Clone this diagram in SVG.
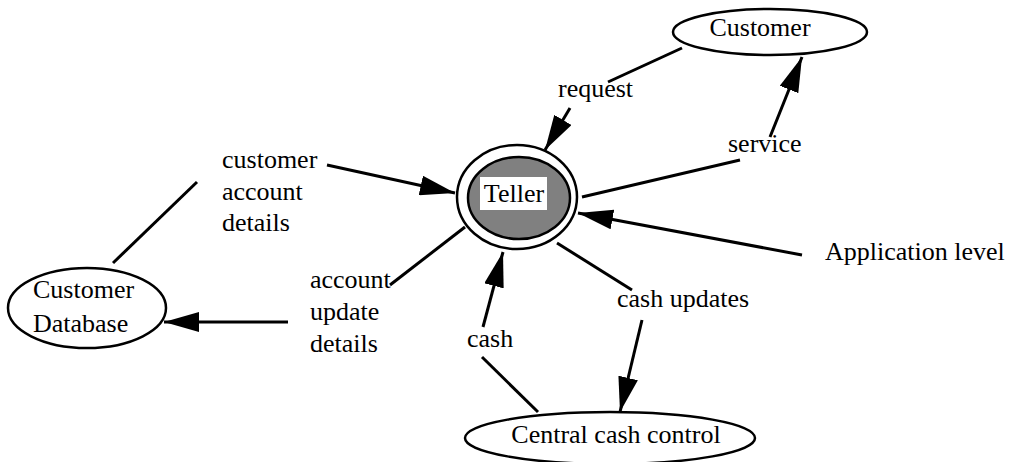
<svg xmlns="http://www.w3.org/2000/svg" width="1012" height="462" viewBox="0 0 1012 462">
  <style>
    .node { fill: #ffffff; stroke: #000000; stroke-width: 2.5; }
    .core { fill: #808080; stroke: #000000; stroke-width: 2.5; }
    .lbl { font-family: "Liberation Serif", "Times New Roman", serif; font-size: 26px; fill: #000000; }
    .mid { text-anchor: middle; }
    .flow { stroke: #000000; stroke-width: 3; fill: none; }
    .arrow { stroke: #000000; stroke-width: 3; fill: none; marker-end: url(#head); }
  </style>
  <defs>
    <marker id="head" markerUnits="userSpaceOnUse" markerWidth="36" markerHeight="20" refX="35" refY="10" orient="auto">
      <path d="M0,0 L35,10 L0,20 z" fill="#000000"/>
    </marker>
  </defs>

  <!-- data flows -->
  <g id="connectors">
    <!-- request: Customer -> Teller -->
    <line class="flow" x1="682" y1="48" x2="608" y2="82"/>
    <line class="arrow" x1="570" y1="108" x2="545" y2="150"/>
    <!-- service: Teller -> Customer -->
    <line class="flow" x1="582" y1="197" x2="740" y2="160"/>
    <line class="arrow" x1="770" y1="137" x2="802" y2="57"/>
    <!-- customer account details: Database -> Teller -->
    <line class="flow" x1="113" y1="263" x2="197" y2="182"/>
    <line class="arrow" x1="327" y1="165" x2="455" y2="193"/>
    <!-- account update details: Teller -> Database -->
    <line class="flow" x1="465" y1="227" x2="390" y2="285"/>
    <line class="arrow" x1="288" y1="322" x2="164" y2="322"/>
    <!-- Application level -->
    <line class="arrow" x1="802" y1="255" x2="578" y2="213"/>
    <!-- cash updates: Teller -> Central cash control -->
    <line class="flow" x1="557" y1="243" x2="632" y2="290"/>
    <line class="arrow" x1="642" y1="320" x2="620" y2="412"/>
    <!-- cash: Central cash control -> Teller -->
    <line class="flow" x1="538" y1="412" x2="482" y2="357"/>
    <line class="arrow" x1="483" y1="327" x2="503" y2="252"/>
  </g>

  <g id="teller">
    <ellipse class="node" cx="517" cy="197" rx="60" ry="52"/>
    <ellipse class="core" cx="519" cy="198" rx="51" ry="41"/>
    <rect x="480" y="177" width="67" height="33" fill="#ffffff"/>
    <text class="lbl mid" x="514" y="202">Teller</text>
  </g>

  <g id="customer">
    <ellipse class="node" cx="770" cy="32" rx="97" ry="23"/>
    <text class="lbl mid" x="760" y="36">Customer</text>
  </g>

  <g id="customer-database">
    <ellipse class="node" cx="87" cy="308" rx="79" ry="40"/>
    <text class="lbl" x="33" y="298">Customer</text>
    <text class="lbl" x="33" y="332">Database</text>
  </g>

  <g id="central-cash-control">
    <ellipse class="node" cx="610" cy="438" rx="145" ry="26"/>
    <text class="lbl mid" x="616" y="443">Central cash control</text>
  </g>

  <g id="flow-labels">
    <text class="lbl" x="558" y="97">request</text>
    <text class="lbl" x="728" y="152">service</text>
    <text class="lbl" x="222" y="168">customer</text>
    <text class="lbl" x="222" y="200">account</text>
    <text class="lbl" x="222" y="231">details</text>
    <text class="lbl" x="310" y="288">account</text>
    <text class="lbl" x="310" y="320">update</text>
    <text class="lbl" x="310" y="352">details</text>
    <text class="lbl" x="825" y="260">Application level</text>
    <text class="lbl" x="617" y="307">cash updates</text>
    <text class="lbl" x="467" y="347">cash</text>
  </g>
</svg>
